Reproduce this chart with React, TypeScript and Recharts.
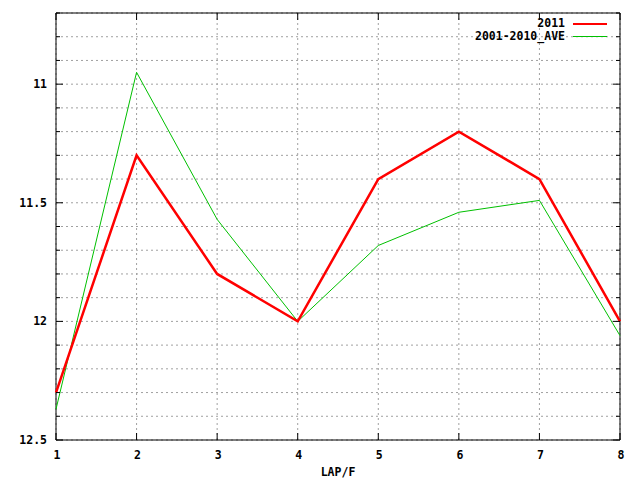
// Lap times chart: 2011 vs 2001-2010 average (gnuplot look, reversed Y).
import React from 'react';
import {
  LineChart,
  Line,
  XAxis,
  YAxis,
  CartesianGrid,
  ReferenceArea,
} from 'recharts';

const laps = [1, 2, 3, 4, 5, 6, 7, 8];
const times2011 = [12.3, 11.3, 11.8, 12.0, 11.4, 11.2, 11.4, 12.0];
const timesAve = [12.37, 10.95, 11.57, 12.0, 11.68, 11.54, 11.49, 12.06];
const seriesNames = ['2011', '2001-2010_AVE'];
const seriesColors = ['#ff0000', '#00c000'];

const yTicks = [10.7, 10.8, 10.9, 11, 11.1, 11.2, 11.3, 11.4, 11.5, 11.6, 11.7, 11.8, 11.9, 12, 12.1, 12.2, 12.3, 12.4, 12.5];
const yLabels = ['11', '11.5', '12', '12.5'];
const xLabel = 'LAP/F';

const data = laps.map((lap, i) => ({ lap, y2011: times2011[i], ave: timesAve[i] }));

const W = 640;
const H = 480;
const PLOT_LEFT = 56;
const PLOT_RIGHT = 620;
const PLOT_TOP = 13;
const PLOT_BOTTOM = 440;
const FONT = '"DejaVu Sans Mono", monospace';
const FONT_SIZE = 11.5;

const YTick = (props: any) => {
  const { y, payload } = props;
  const label = String(payload.value);
  const isMajor = yLabels.includes(label);
  const len = isMajor ? 7 : 4;
  return (
    <g>
      <line x1={PLOT_LEFT} x2={PLOT_LEFT + len} y1={y} y2={y} stroke="#000" />
      <line x1={PLOT_RIGHT} x2={PLOT_RIGHT - len} y1={y} y2={y} stroke="#000" />
      {isMajor && (
        <text
          x={47}
          y={y}
          textAnchor="end"
          dominantBaseline="central"
          fontFamily={FONT}
          fontWeight="bold"
          fontSize={FONT_SIZE}
          fill="#000"
        >
          {label}
        </text>
      )}
    </g>
  );
};

const XTick = (props: any) => {
  const { x, payload } = props;
  return (
    <g>
      <line x1={x} x2={x} y1={PLOT_BOTTOM} y2={PLOT_BOTTOM - 7} stroke="#000" />
      <line x1={x} x2={x} y1={PLOT_TOP} y2={PLOT_TOP + 7} stroke="#000" />
      <text
        x={x + 1}
        y={455}
        textAnchor="middle"
        dominantBaseline="central"
        fontFamily={FONT}
        fontWeight="bold"
        fontSize={FONT_SIZE}
        fill="#000"
      >
        {payload.value}
      </text>
    </g>
  );
};

const App: React.FC = () => {
  return (
    <div style={{ position: 'absolute', left: 0, top: 0, width: W, height: H, background: '#fff' }}>
      <LineChart
        width={W}
        height={H}
        data={data}
        margin={{ top: PLOT_TOP, right: W - PLOT_RIGHT, left: 0, bottom: 0 }}
      >
        <CartesianGrid stroke="#a0a0a0" strokeDasharray="2 3" />
        <XAxis
          dataKey="lap"
          type="number"
          domain={[1, 8]}
          ticks={laps}
          height={H - PLOT_BOTTOM}
          axisLine={false}
          tickLine={false}
          tick={<XTick />}
          interval={0}
          label={{
            value: xLabel,
            position: 'insideBottom',
            offset: 4,
            style: { fontFamily: FONT, fontWeight: 'bold', fontSize: FONT_SIZE, fill: '#000' },
          }}
        />
        <YAxis
          type="number"
          reversed
          domain={[10.7, 12.5]}
          ticks={yTicks}
          width={PLOT_LEFT}
          axisLine={false}
          tickLine={false}
          tick={<YTick />}
          interval={0}
        />
        <ReferenceArea x1={1} x2={8} y1={10.7} y2={12.5} fill="none" stroke="#000" strokeWidth={1} />
        <Line
          type="linear"
          dataKey="ave"
          name={seriesNames[1]}
          stroke={seriesColors[1]}
          strokeWidth={1}
          dot={false}
          isAnimationActive={false}
        />
        <Line
          type="linear"
          dataKey="y2011"
          name={seriesNames[0]}
          stroke={seriesColors[0]}
          strokeWidth={2.5}
          dot={false}
          isAnimationActive={false}
        />
      </LineChart>
      <div
        style={{
          position: 'absolute',
          right: W - 607,
          top: 17,
          fontFamily: FONT,
          fontWeight: 'bold',
          fontSize: FONT_SIZE,
          lineHeight: '13px',
        }}
      >
        {seriesNames.map((name, i) => (
          <div key={name} style={{ display: 'flex', alignItems: 'center', justifyContent: 'flex-end' }}>
            <span>{name}</span>
            <span
              style={{
                display: 'inline-block',
                width: 34,
                marginLeft: 8,
                borderTop: `${i === 0 ? 2.5 : 1}px solid ${seriesColors[i]}`,
              }}
            />
          </div>
        ))}
      </div>
    </div>
  );
};

export default App;
